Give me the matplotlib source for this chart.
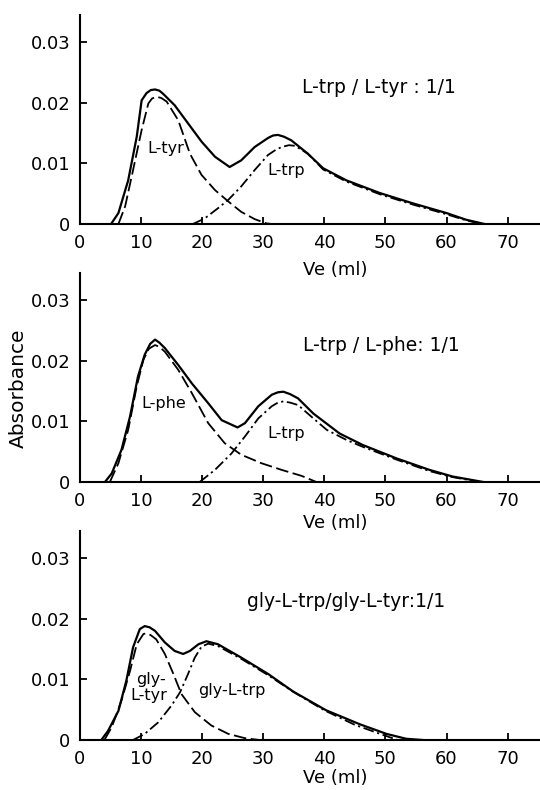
import numpy as np
import matplotlib
matplotlib.use("Agg")
import matplotlib.pyplot as plt

# x ticks / y ticks shared by the three panels
x_ticks = [0, 10, 20, 30, 40, 50, 60, 70]
y_ticks = [0, 0.01, 0.02, 0.03]
y_tick_labels = ["0", "0.01", "0.02", "0.03"]

# Panel 1: L-trp / L-tyr
p1_total_x = [5.1, 6.3, 7.9, 9.3, 10.1, 10.9, 11.6, 12.3, 13.0, 13.6, 15.5, 17.7, 19.9, 22.1, 24.5,
              26.4, 28.6, 30.8, 31.6, 32.4, 33.4, 34.6, 37.3, 39.8, 43.6, 49.1, 54.5, 60.0, 63.2, 66.2]
p1_total_y = [0, 0.0018, 0.0072, 0.0144, 0.0204, 0.0216, 0.0221, 0.0222, 0.0220, 0.0215, 0.0196, 0.0166,
              0.0136, 0.0111, 0.0094, 0.0105, 0.0127, 0.0142, 0.0146, 0.0147, 0.0144, 0.0138, 0.0116,
              0.0092, 0.0072, 0.0051, 0.0034, 0.0018, 0.0007, 0]
p1_a_x = [6.3, 7.4, 8.7, 10.1, 11.2, 11.8, 12.5, 13.3, 14.2, 16.1, 18.0, 19.9, 22.1, 24.3, 26.4,
          28.6, 30.5, 31.4]
p1_a_y = [0, 0.0029, 0.0089, 0.0155, 0.0199, 0.0207, 0.0210, 0.0208, 0.0202, 0.0171, 0.0116, 0.0081,
          0.0056, 0.0037, 0.0020, 0.0008, 0.0001, 0]
p1_b_x = [18.5, 20.4, 22.6, 24.3, 26.4, 28.6, 30.8, 32.0, 33.0, 34.2, 35.2, 37.3, 39.8, 43.6, 49.1,
          54.5, 60.0, 63.2, 65.8]
p1_b_y = [0, 0.0009, 0.0026, 0.0040, 0.0062, 0.0089, 0.0114, 0.0122, 0.0127, 0.0130, 0.0129, 0.0116,
          0.0090, 0.0070, 0.0049, 0.0032, 0.0016, 0.0006, 0]

# Panel 2: L-trp / L-phe
p2_total_x = [4.1, 5.2, 6.8, 8.2, 9.5, 10.6, 11.5, 12.3, 13.0, 13.9, 16.1, 18.3, 21.0, 23.2, 25.8,
              27.0, 29.2, 31.4, 32.4, 33.3, 34.4, 35.7, 38.2, 42.5, 46.3, 51.8, 57.2, 61.0, 66.0]
p2_total_y = [0, 0.0014, 0.0053, 0.0108, 0.0174, 0.0210, 0.0228, 0.0235, 0.0230, 0.0221, 0.0193,
              0.0163, 0.0130, 0.0102, 0.0090, 0.0097, 0.0125, 0.0144, 0.0148, 0.0149, 0.0145,
              0.0138, 0.0113, 0.0080, 0.0061, 0.0039, 0.0020, 0.0009, 0]
p2_a_x = [4.9, 6.3, 7.9, 9.3, 10.4, 11.3, 12.3, 13.0, 13.9, 16.1, 18.3, 21.0, 23.7, 26.4, 29.7,
          33.0, 36.3, 38.7]
p2_a_y = [0, 0.0031, 0.0086, 0.0158, 0.0202, 0.0220, 0.0226, 0.0223, 0.0215, 0.0185, 0.0147,
          0.0097, 0.0064, 0.0045, 0.0031, 0.0020, 0.0010, 0]
p2_b_x = [19.6, 22.1, 24.8, 27.0, 29.2, 31.4, 32.4, 33.3, 34.4, 35.7, 38.2, 40.4, 43.7, 46.3,
          51.8, 57.2, 61.0, 65.5]
p2_b_y = [0, 0.0020, 0.0047, 0.0075, 0.0105, 0.0125, 0.0131, 0.0133, 0.0131, 0.0127, 0.0105,
          0.0086, 0.0069, 0.0058, 0.0037, 0.0018, 0.0008, 0]

# Panel 3: gly-L-trp / gly-L-tyr
p3_total_x = [3.5, 4.6, 6.3, 7.6, 8.7, 9.8, 10.6, 11.4, 12.3, 13.9, 15.5, 16.9, 18.0, 19.4,
              20.7, 22.6, 26.4, 30.8, 34.9, 40.3, 45.8, 50.2, 53.4, 56.1]
p3_total_y = [0, 0.0015, 0.0048, 0.0098, 0.0153, 0.0183, 0.0188, 0.0186, 0.0180, 0.0161,
              0.0147, 0.0142, 0.0147, 0.0158, 0.0163, 0.0158, 0.0136, 0.0109, 0.0080,
              0.0049, 0.0026, 0.0010, 0.0002, 0]
p3_a_x = [4.0, 5.2, 6.8, 8.2, 9.3, 10.4, 10.9, 11.6, 12.5, 13.9, 15.3, 16.6, 18.8, 21.5, 24.3,
          27.0, 29.4]
p3_a_y = [0, 0.0021, 0.0065, 0.0114, 0.0158, 0.0175, 0.0176, 0.0173, 0.0166, 0.0142, 0.0109,
          0.0076, 0.0046, 0.0024, 0.0010, 0.0003, 0]
p3_b_x = [8.7, 10.6, 12.8, 15.0, 16.4, 17.7, 18.8, 19.9, 21.0, 22.6, 26.4, 30.8, 35.0, 40.0,
          45.0, 50.0, 52.0]
p3_b_y = [0, 0.0010, 0.0029, 0.0057, 0.0079, 0.0109, 0.0136, 0.0154, 0.0159, 0.0155, 0.0134,
          0.0107, 0.0079, 0.0049, 0.0025, 0.0007, 0]

panels = [
    dict(total=(p1_total_x, p1_total_y), a=(p1_a_x, p1_a_y), b=(p1_b_x, p1_b_y),
         title="L-trp / L-tyr : 1/1", title_pos=(49.0, 0.0226), xlab_y=-0.22,
         labels=[("L-tyr", 14.0, 0.0125), ("L-trp", 33.8, 0.0088)]),
    dict(total=(p2_total_x, p2_total_y), a=(p2_a_x, p2_a_y), b=(p2_b_x, p2_b_y),
         title="L-trp / L-phe: 1/1", title_pos=(49.4, 0.0226), xlab_y=-0.195,
         labels=[("L-phe", 13.7, 0.0130), ("L-trp", 33.8, 0.0080)]),
    dict(total=(p3_total_x, p3_total_y), a=(p3_a_x, p3_a_y), b=(p3_b_x, p3_b_y),
         title="gly-L-trp/gly-L-tyr:1/1", title_pos=(43.5, 0.0228), xlab_y=-0.18,
         labels=[("gly-", 11.6, 0.0100), ("L-tyr", 11.2, 0.0073), ("gly-L-trp", 24.9, 0.0081)]),
]

fig = plt.figure(figsize=(5.4, 7.9), dpi=100)
bottoms = [0.7165, 0.3899, 0.0633]

for p, b in zip(panels, bottoms):
    ax = fig.add_axes([0.148, b, 0.852, 0.2646])
    ax.patch.set_alpha(0)
    ax.plot(*p["total"], color="black", lw=1.6, solid_joinstyle="round")
    ax.plot(*p["a"], color="black", lw=1.3, dashes=(7, 2.5))
    ax.plot(*p["b"], color="black", lw=1.3, dashes=(6, 2, 1.2, 2))
    ax.text(*p["title_pos"], p["title"], ha="center", va="center", fontsize=13.5)
    for txt, x, y in p["labels"]:
        ax.text(x, y, txt, ha="center", va="center", fontsize=11.5)

    ax.set_xlim(0, 75.3)
    ax.set_ylim(0, 0.0345)
    ax.set_xticks(x_ticks)
    ax.set_yticks(y_ticks)
    ax.set_yticklabels(y_tick_labels)
    ax.spines["top"].set_visible(False)
    ax.spines["right"].set_visible(False)
    ax.spines["left"].set_linewidth(1.5)
    ax.spines["bottom"].set_linewidth(1.5)
    ax.tick_params(direction="in", length=5, width=1.3, labelsize=13, pad=7)
    ax.text(0.554, p["xlab_y"], "Ve (ml)", transform=ax.transAxes,
            ha="center", va="center", fontsize=13)

fig.text(18 / 540, 1 - 388 / 790, "Absorbance", rotation=90,
         ha="center", va="center", fontsize=14.5)

fig.savefig("out.png", dpi=100)
